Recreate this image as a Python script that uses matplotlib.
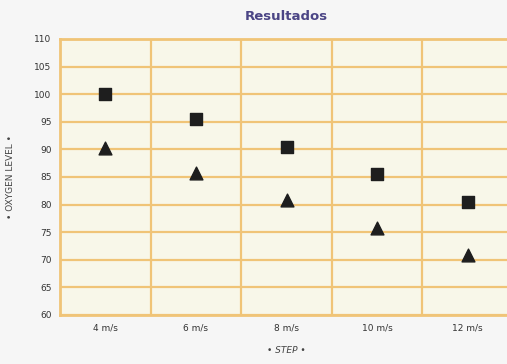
import matplotlib
matplotlib.use("Agg")
import matplotlib.pyplot as plt

categories = ["4 m/s", "6 m/s", "8 m/s", "10 m/s", "12 m/s"]
squares = [100, 95.5, 90.5, 85.5, 80.5]
triangles = [90.3, 85.7, 80.8, 75.8, 70.9]
yticks = [60, 65, 70, 75, 80, 85, 90, 95, 100, 105, 110]

fig = plt.figure(figsize=(5.07, 3.64), dpi=100, facecolor="#f6f6f6")
ax = fig.add_axes([60/507, 49/364, 453/507, 276/364])
ax.set_facecolor("#f8f7e9")
x = list(range(len(categories)))
ax.scatter(x, squares, marker="s", s=85, color="#1e1e1e", zorder=3)
ax.scatter(x, triangles, marker="^", s=85, color="#1e1e1e", zorder=3)

ax.set_xlim(-0.5, 4.5)
ax.set_ylim(60, 110)
ax.set_yticks(yticks)
ax.set_yticklabels([str(v) for v in yticks])
ax.set_xticks(x)
ax.set_xticklabels(categories)
ax.grid(False)
for v in yticks:
    ax.axhline(v, color="#f0c477", lw=1.6, zorder=1)
for v in [0.5, 1.5, 2.5, 3.5]:
    ax.axvline(v, color="#f0c477", lw=1.6, zorder=1)
for s in ax.spines.values():
    s.set_color("#f0c477")
    s.set_linewidth(2)
ax.tick_params(length=0, labelsize=6.5, colors="#333333", pad=6)
ax.set_title("Resultados", color="#4b4585", fontsize=9.5, fontweight="bold", pad=14)
ax.set_ylabel("• OXYGEN LEVEL •", fontsize=6.5, color="#444444", labelpad=14)
ax.set_xlabel("• STEP •", fontsize=6.5, color="#444444", style="italic", labelpad=10)
fig.savefig("out.png", dpi=100, facecolor=fig.get_facecolor())
